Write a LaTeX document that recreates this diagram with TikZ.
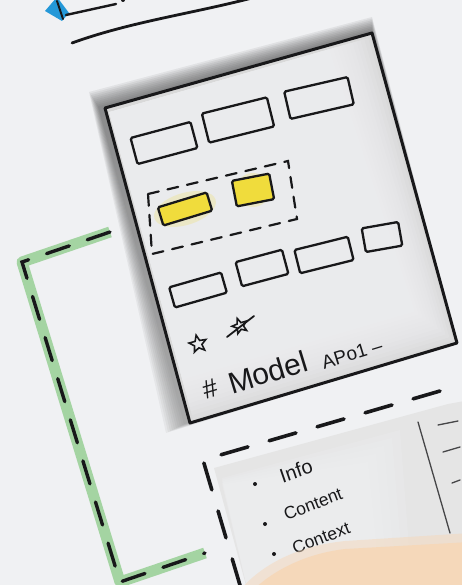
\documentclass[tikz,border=0pt]{standalone}
\usepackage{fontspec}
\setmainfont{Liberation Sans}
\usepackage{tikz}
\usetikzlibrary{calc,shapes.geometric}

\definecolor{paper}{RGB}{240,241,243}
\definecolor{ink}{RGB}{24,24,26}
\definecolor{markerblue}{RGB}{36,152,216}
\definecolor{hilite}{RGB}{240,220,60}
\definecolor{leafgreen}{RGB}{164,212,162}
\definecolor{skin}{RGB}{245,216,186}
\definecolor{shade}{RGB}{140,140,146}

\begin{document}
\begin{tikzpicture}[
x=1pt, y=-1pt,
card/.style={draw=ink, line width=2.3pt, rounded corners=1.5pt, inner sep=0pt},
hicard/.style={card, fill=hilite},
frameline/.style={draw=ink, line width=3pt, line join=round, line cap=round},
penline/.style={draw=ink, line width=2.4pt, line cap=round},
dashframe/.style={draw=ink, line width=2.2pt, dash pattern=on 11pt off 9pt, line cap=round},
scrawl/.style={text=ink, inner sep=0pt, anchor=center},
listword/.style={scrawl, rotate=21, font=\fontsize{17.5}{17.5}\selectfont},
starmark/.style={star, star points=5, star point ratio=2.3, draw=ink, line width=1.6pt, minimum size=18pt, inner sep=0pt}
]

\useasboundingbox (0,0) rectangle (462,585);
\fill[paper] (0,0) rectangle (462,585);
\clip (0,0) rectangle (462,585);

% corners of the screen sketch
\coordinate (TL) at (105,108);
\coordinate (TR) at (372,33);
\coordinate (BR) at (457,343);
\coordinate (BL) at (190,423);

% header strokes
\fill[markerblue] (45,11) -- (57,-3) -- (69,13) -- (62,21) -- cycle;
\draw[penline, line width=2pt] (57,1) -- (63,19);
\draw[penline] (66,15) -- (116,4);
\fill[ink] (123,0) circle (2pt);
\draw[penline, line width=2.8pt] (72,43) .. controls (130,22) and (190,14) .. (252,-2);

% soft shadow round the screen
\foreach \s in {2,4,...,20}{
  \fill[shade, opacity=0.045] ($(TL)+(-0.5*\s-6,-0.8*\s)$) -- ($(TR)+(0,-0.8*\s)$)
     -- (BR) -- ($(BL)+(-\s-4,0.5*\s)$) -- cycle;
}

% screen face
\fill[gray!30] (TL) -- (TR) -- (BR) -- (BL) -- cycle;
\foreach \d in {4,8,...,44}{
  \fill[paper, opacity=0.16] ($(TL)+(4,4)$) -- ($(TR)!{\d/275}!(TL)+(0,4)$)
     -- ($(BR)!{\d/280}!(BL)+(0,-\d)$) -- ($(BL)!{\d/320}!(TL)+(4,0)$) -- cycle;
}
\draw[frameline] (TL) -- (TR) -- (BR) -- (BL) -- cycle;

% top row
\node[card, minimum width=62pt, minimum height=27pt, rotate=15] (cardA) at (164,143) {};
\node[card, minimum width=67pt, minimum height=30pt, rotate=14] (cardB) at (238,120) {};
\node[card, minimum width=65pt, minimum height=28pt, rotate=13] (cardC) at (319,98) {};

% selected group
\fill[hilite, opacity=0.22, rotate around={17:(185,209)}] (185,209) ellipse (32pt and 16pt);
\fill[hilite, opacity=0.22] (253,190) circle (17pt);
\node[hicard, minimum width=51pt, minimum height=19pt, rotate=17] (pickA) at (185,209) {};
\node[hicard, minimum width=38pt, minimum height=26pt, rotate=11] (pickB) at (253,190) {};
\draw[dashframe] (148,194) -- (288,161) -- (297,219) -- (152,254) -- cycle;

% lower row
\node[card, minimum width=54pt, minimum height=21pt, rotate=16] (cardD) at (198,290) {};
\node[card, minimum width=48pt, minimum height=25pt, rotate=15] (cardE) at (262,268) {};
\node[card, minimum width=55pt, minimum height=24pt, rotate=14] (cardF) at (324,255) {};
\node[card, minimum width=37pt, minimum height=24pt, rotate=10] (cardG) at (382,237) {};

% marks and caption
\node[starmark, rotate=12] (starA) at (198,344) {};
\node[starmark, rotate=20, minimum size=16pt] (starB) at (240,326) {};
\draw[penline, line width=1.8pt] (227,337) -- (254,316);
\node[scrawl, rotate=17, font=\fontsize{26}{26}\selectfont] (hashmark) at (210,389) {\#};
\node[scrawl, rotate=17, font=\fontsize{30}{30}\selectfont] (modelword) at (268,372) {Model};
\node[scrawl, rotate=17, font=\fontsize{19}{19}\selectfont] (apiword) at (352,354) {APo1 –};

% info card
\fill[gray!20] (214,468) -- (448,404) -- (470,400) -- (470,600) -- (250,600) -- cycle;
\foreach \d in {0,8,...,32}{
  \fill[paper, opacity=0.22] ($(222,478)+(0,0.2*\d)$) -- ($(400,430)+(-\d,\d)$) -- ($(410,560)+(-\d,0)$) -- (250,600) -- cycle;
}
\draw[ink!80, line width=1.3pt, line cap=round] (418,422) -- (450,533);
\draw[ink!80, line width=1.3pt, line cap=round] (438,425) -- (458,421);
\draw[ink!80, line width=1.3pt, line cap=round] (443,452) -- (460,447);
\draw[ink!80, line width=1.3pt, line cap=round] (452,483) -- (460,480);
\draw[ink, line width=3.6pt, dash pattern=on 28pt off 22pt, line cap=round] (440,391) -- (203,460) -- (242,592);

\fill[ink] (255,484) circle (2pt);
\fill[ink] (265,524) circle (2pt);
\fill[ink] (274,554) circle (2pt);
\node[listword, font=\fontsize{20}{20}\selectfont, rotate=-2] (infoword) at (296,471) {Info};
\node[listword] (contentword) at (313,504) {Content};
\node[listword] (contextword) at (321,538) {Context};

% link between screen and card
\coordinate (linkStart) at (110,232);
\coordinate (linkBend) at (22,262);
\coordinate (linkFoot) at (120,582);
\coordinate (linkEnd) at (205,553);
\draw[leafgreen, line width=11pt, line join=round] (linkStart) -- (linkBend) -- (linkFoot) -- (linkEnd);
\draw[ink, line width=3.4pt, dash pattern=on 24pt off 19pt, line cap=round] (linkStart) -- (linkBend) -- (linkFoot) -- (linkEnd);

% hand in front
\fill[skin, opacity=0.5] (232,600) .. controls (256,566) and (296,546) .. (345,541) -- (470,533) -- (470,600) -- cycle;
\fill[skin] (244,600) .. controls (265,574) and (302,554) .. (345,549) -- (470,542) -- (470,600) -- cycle;

\end{tikzpicture}
\end{document}
